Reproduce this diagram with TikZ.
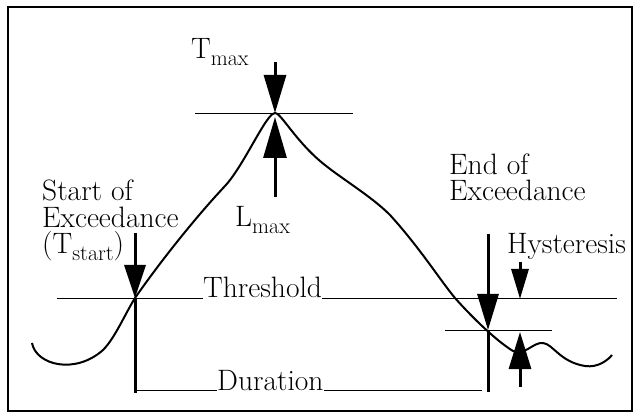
\documentclass[tikz,border=0pt]{standalone}
\usepackage{fontspec}
\usetikzlibrary{arrows.meta}
\newcommand\lowsub[1]{\raisebox{-7pt}{\fontsize{22}{22}\selectfont #1}}
\begin{document}
\begin{tikzpicture}[x=1pt,y=-1pt,
  lbl/.style={anchor=base west,inner sep=0pt,font=\fontsize{29.5}{26.5}\selectfont},
  mlbl/.style={lbl,align=left},
  thin/.style={line width=0.9pt},
  bar/.style={line width=3pt},
  curve/.style={line width=2pt,line join=round},
]
\useasboundingbox (0,0) rectangle (635,414);
\draw[line width=2.4pt] (8,7) rectangle (632,411);

% texts
\node[lbl] (tmax) at (191,59) {T\lowsub{max}};
\node[lbl] (lmax) at (235,227) {L\lowsub{max}};
\node[mlbl] (start) at (42,254) {Start of\\Exceedance\\(T\lowsub{start})};
\node[mlbl] (end) at (449,201) {End of\\Exceedance};
\node[lbl] (hys) at (507,254) {Hysteresis};
\node[lbl] (thr) at (203,298) {Threshold};
\node[lbl] (dur) at (217,390) {Duration};

% coordinates
\coordinate (peak) at (275,113);
\coordinate (tmaxtop) at (275,62);
\coordinate (lmaxtip) at (275,117);
\coordinate (lmaxbot) at (275,197);
\coordinate (stop) at (135,233);
\coordinate (scross) at (135,298);
\coordinate (sbot) at (135,393);
\coordinate (etop) at (488,234);
\coordinate (ecross) at (488,330);
\coordinate (ebot) at (488,392);
\coordinate (hdtop) at (520,262);
\coordinate (hdtip) at (520,299);
\coordinate (hutip) at (520,332);
\coordinate (hubot) at (520,387);
\coordinate (thl) at (57,298);
\coordinate (thr2) at (617,298);
\coordinate (dul) at (135,390);
\coordinate (dur2) at (482,390);

% thin lines
\draw[thin] (195,113) -- (353,113);
\draw[thin] (thl) -- (thr.base west);
\draw[thin] (thr.base east) -- (thr2);
\draw[thin] (dul) -- (dur.base west);
\draw[thin] (dur.base east) -- (dur2);
\draw[thin] (445,330) -- (552,330);

% curve
\draw[curve] (32,343) .. controls (36,365) and (75,375) .. (103,350)
  .. controls (115,338) and (125,314) .. (135,298)
  .. controls (160,262) and (195,218) .. (225,186)
  .. controls (240,170) and (258,132) .. (268,119)
  .. controls (271,115) and (273,113) .. (275,113)
  .. controls (277,113) and (280,116) .. (284,121)
  .. controls (295,135) and (305,148) .. (320,161)
  .. controls (340,178) and (370,195) .. (390,215)
  .. controls (420,248) and (440,280) .. (455,298)
  .. controls (470,315) and (495,340) .. (513,351)
  .. controls (525,356) and (533,342) .. (543,343)
  .. controls (553,344) and (560,362) .. (585,366)
  .. controls (598,368) and (608,360) .. (612,355);

% arrows and bars
\draw[line width=3pt,-{Triangle[length=38pt,width=22pt]}] (tmaxtop) -- (peak);
\draw[line width=3pt,-{Triangle[length=41pt,width=23pt]}] (lmaxbot) -- (lmaxtip);
\draw[line width=3pt,-{Triangle[length=33pt,width=21pt]}] (stop) -- (scross);
\draw[bar] (scross) -- (sbot);
\draw[line width=3pt,-{Triangle[length=36pt,width=21pt]}] (etop) -- (ecross);
\draw[bar] (ecross) -- (ebot);
\draw[line width=3pt,-{Triangle[length=30pt,width=17pt]}] (hdtop) -- (hdtip);
\draw[line width=3pt,-{Triangle[length=37pt,width=22pt]}] (hubot) -- (hutip);
\end{tikzpicture}
\end{document}
